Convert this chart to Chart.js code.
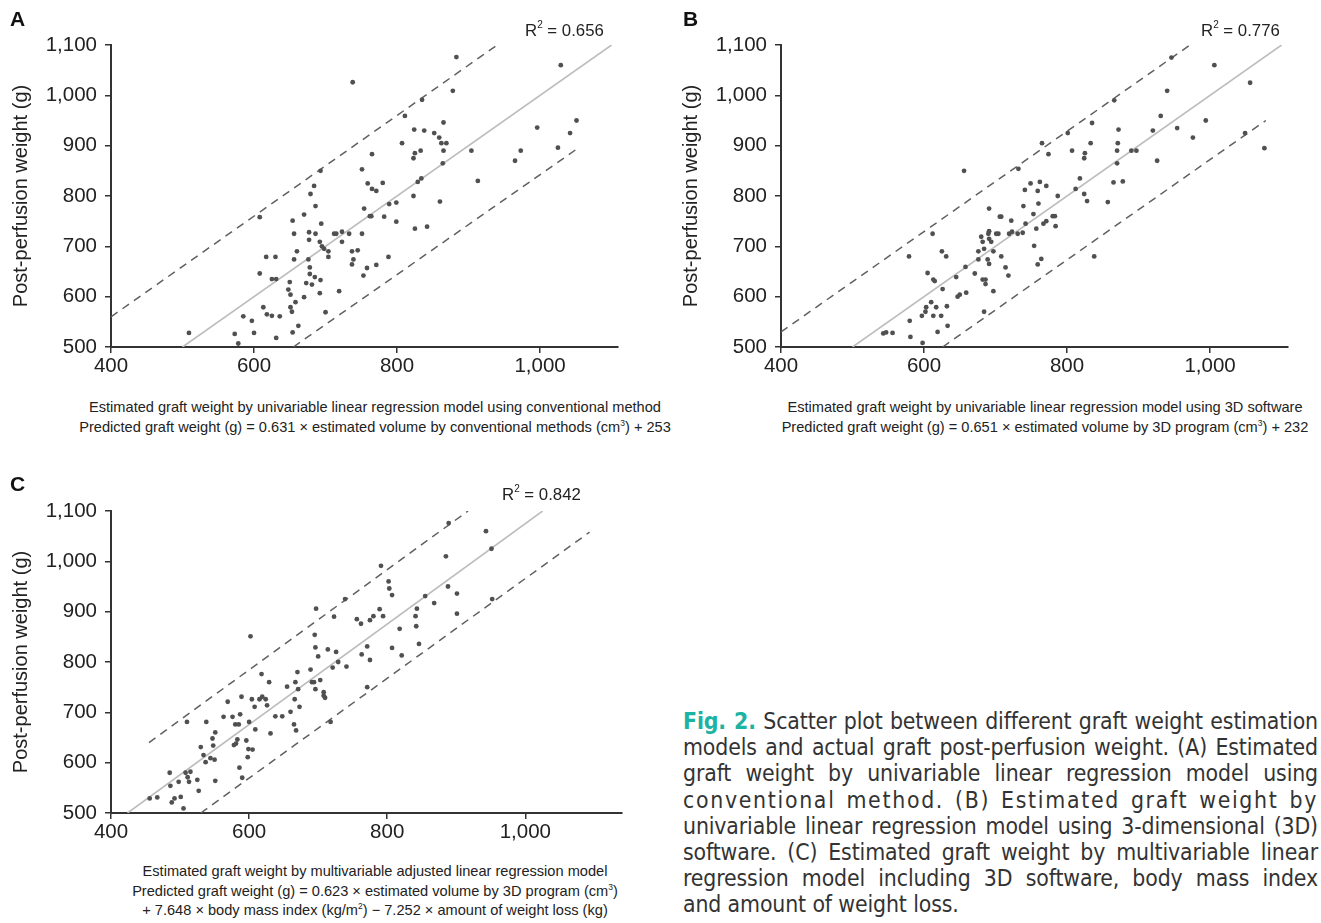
<!DOCTYPE html>
<html>
<head>
<meta charset="utf-8">
<script src="https://cdn.jsdelivr.net/npm/chart.js@4.4.1/dist/chart.umd.min.js"></script>
<style>
  html, body { margin: 0; padding: 0; background: #fff; }
  #root { position: relative; width: 1321px; height: 923px; overflow: hidden; font-family: "Liberation Sans", Arial, sans-serif; color: #222; }
  canvas { position: absolute; }
  .lbl { position: absolute; font-weight: bold; font-size: 21px; color: #111; }
  .r2 { position: absolute; font-size: 16.8px; color: #222; white-space: nowrap; }
  .r2 sup { font-size: 10px; position: relative; top: -1px; }
  .xt { position: absolute; text-align: center; font-size: 14.6px; line-height: 19.5px; color: #222; white-space: nowrap; }
  .xt sup { font-size: 8.5px; line-height: 0; }
  #cap { position: absolute; left: 683px; top: 708px; width: 635px; font-family: "DejaVu Sans Condensed", "Liberation Sans", sans-serif; font-size: 22.8px; letter-spacing: -0.12px; line-height: 26.2px; color: #333; }
  #cap div { text-align: justify; text-align-last: justify; white-space: nowrap; }
  #cap div.wide { letter-spacing: 1.7px; }
  #cap div.last { text-align-last: left; }
  #cap b { color: #1bb3a3; font-weight: bold; }
</style>
</head>
<body>
<div id="root">
  <canvas id="cA" width="640" height="380" style="left:0px;top:0px;width:640px;height:380px"></canvas>
  <canvas id="cB" width="640" height="380" style="left:670px;top:0px;width:640px;height:380px"></canvas>
  <canvas id="cC" width="640" height="380" style="left:0px;top:466px;width:640px;height:380px"></canvas>

  <div class="lbl" style="left:10px;top:7px">A</div>
  <div class="lbl" style="left:683px;top:7px">B</div>
  <div class="lbl" style="left:10px;top:472px">C</div>

  <div class="r2" style="left:525px;top:20px">R<sup>2</sup> = 0.656</div>
  <div class="r2" style="left:1201px;top:20px">R<sup>2</sup> = 0.776</div>
  <div class="r2" style="left:502px;top:484px">R<sup>2</sup> = 0.842</div>

  <div class="xt" style="left:75px;top:398px;width:600px">Estimated graft weight by univariable linear regression model using conventional method<br>Predicted graft weight (g) = 0.631 &times; estimated volume by conventional methods (cm<sup>3</sup>) + 253</div>
  <div class="xt" style="left:745px;top:398px;width:600px">Estimated graft weight by univariable linear regression model using 3D software<br>Predicted graft weight (g) = 0.651 &times; estimated volume by 3D program (cm<sup>3</sup>) + 232</div>
  <div class="xt" style="left:75px;top:862px;width:600px">Estimated graft weight by multivariable adjusted linear regression model<br>Predicted graft weight (g) = 0.623 &times; estimated volume by 3D program (cm<sup>3</sup>)<br>+ 7.648 &times; body mass index (kg/m<sup>2</sup>) &minus; 7.252 &times; amount of weight loss (kg)</div>

  <div id="cap">
    <div><b>Fig. 2.</b> Scatter plot between different graft weight estimation</div>
    <div>models and actual graft post-perfusion weight. (A) Estimated</div>
    <div>graft weight by univariable linear regression model using</div>
    <div class="wide">conventional method. (B) Estimated graft weight by</div>
    <div>univariable linear regression model using 3-dimensional (3D)</div>
    <div>software. (C) Estimated graft weight by multivariable linear</div>
    <div>regression model including 3D software, body mass index</div>
    <div class="last">and amount of weight loss.</div>
  </div>
</div>
<script>
// ---- Tick values ----
const xTickVals = [400, 600, 800, 1000];
const yTickVals = [500, 600, 700, 800, 900, 1000, 1100];

// ---- Panel A: conventional method ----
const aX = [509,573,578,585,597,600,608,608,613,617, 618,625,625,630,631,631,636,648,650,651, 651,653,654,654,656,656,658,660,662,670, 670,673,676,677,677,678,678,679,681,684, 685,686,686,692,692,693,693,694,695,698, 700,704,704,712,715,719,723,723,733,737, 737,738,739,745,751,751,753,754,758,759, 762,764,765,765,771,771,780,782,788,789, 799,799,807,811,823,823,824,825,825,829, 833,834,835,838,842,852,859,860,862,864, 865,865,869,878,883,904,913,965,973,996, 1025,1029,1042,1051];
const aY = [528,526,507,561,552,528,758,646,579,679, 565,635,562,679,635,518,561,614,629,604, 579,570,529,751,725,674,589,690,542,599, 763,627,674,728,713,658,645,804,624,820, 639,780,725,709,607,633,850,745,700,695, 569,690,679,725,725,611,729,709,725,690, 664,1026,674,692,725,853,642,775,657,825, 760,760,814,883,810,663,826,759,679,784, 787,749,905,959,875,800,932,735,885,828, 890,835,991,930,739,925,916,789,905,865, 946,890,905,1009,1076,890,830,870,890,936, 896,1060,925,950];
const aFitX = [500, 1100], aFitY = [500, 1100];
const aUpX = [400, 940],  aUpY = [560, 1100];
const aLoX = [655, 1050], aLoY = [500, 892];

// ---- Panel B: 3D software ----
const bX = [543,547,556,579,580,581,597,598,602,603, 605,610,612,613,613,615,617,619,624,625, 626,631,632,633,645,647,650,656,658,659, 671,676,676,680,682,682,684,684,686,686, 689,690,691,691,691,691,694,697,697,701, 704,706,708,708,714,718,719,722,723,731, 732,738,739,741,742,749,753,754,757,759, 759,760,762,764,765,767,771,771,774,780, 783,784,787,801,807,812,818,824,824,825, 828,833,835,838,857,865,866,870,870,871, 872,878,890,897,920,926,931,940,946,954, 976,994,1006,1049,1056,1076];
const bY = [527,529,528,680,552,520,562,508,570,579, 647,589,725,562,634,631,579,530,562,690, 615,680,581,542,639,600,604,850,659,608, 646,690,674,719,709,634,570,695,634,625, 674,725,730,715,665,775,709,690,611,725, 725,759,759,680,658,642,725,751,729,725, 854,727,780,812,745,825,764,701,735,664, 810,785,828,675,905,745,750,820,883,760, 760,740,800,925,890,814,835,804,875,885, 790,905,945,680,788,827,990,890,865,905, 932,829,890,890,930,870,959,1009,1075,935, 916,950,1060,925,1025,895];
const bFitX = [500, 1100], bFitY = [500, 1100];
const bUpX = [400, 972],  bUpY = [530, 1100];
const bLoX = [626, 1078], bLoY = [500, 950];

// ---- Panel C: multivariable model ----
const cX = [456,467,485,486,488,492,498,501,505,508, 510,511,513,515,525,527,530,534,537,538, 544,547,548,550,551,551,563,569,576,578, 580,581,583,585,586,587,589,590,596,598, 599,600,602,604,605,608,609,615,618,619, 624,626,629,631,638,648,655,660,665,666, 667,668,670,671,673,689,691,694,695,696, 696,697,700,703,708,708,710,714,718,721, 723,726,729,739,741,756,762,763,771,771, 775,775,780,789,791,794,802,803,807,807, 818,821,841,842,843,846,855,868,885,888, 889,901,901,943,951,952];
const cY = [529,531,580,554,521,529,562,532,509,580, 681,571,562,582,566,544,631,615,601,681, 609,648,634,606,564,660,691,721,691,635, 676,638,646,676,590,696,731,570,644,611, 627,681,851,726,626,711,666,726,776,731, 726,714,760,658,692,692,751,701,676,726, 760,664,780,746,711,785,760,760,854,829, 746,906,811,764,740,733,729,825,681,789, 890,820,800,925,791,885,876,815,831,750, 804,883,891,905,991,891,960,946,933,828, 866,813,891,871,906,836,931,917,1010,950, 1076,896,936,1060,1025,925];
const cFitX = [424, 1025], cFitY = [500, 1100];
const cUpX = [455, 917],  cUpY = [640, 1100];
const cLoX = [530, 1093], cLoY = [500, 1058];

Chart.defaults.font.family = '"Liberation Sans", Arial, sans-serif';
Chart.defaults.color = '#222';

const zip = (xs, ys) => xs.map((x, i) => ({ x: x, y: ys[i] }));
const fmt = v => Number(v).toLocaleString('en-US');

function makeChart(id, xs, ys, fit, up, lo, xMax, padRight) {
  const lineDs = (pts, color, dash, w) => ({
    type: 'line', data: pts, borderColor: color, borderWidth: w, borderDash: dash,
    pointRadius: 0, fill: false, tension: 0, order: 2
  });
  return new Chart(document.getElementById(id), {
    type: 'scatter',
    data: {
      datasets: [
        { data: zip(xs, ys), pointRadius: 2.4, pointBackgroundColor: '#505050', pointBorderWidth: 0, order: 1 },
        lineDs(zip(fit[0], fit[1]), '#bdbdbd', [], 1.6),
        lineDs(zip(up[0], up[1]), '#606060', [8, 6], 1.5),
        lineDs(zip(lo[0], lo[1]), '#606060', [8, 6], 1.5)
      ]
    },
    options: {
      responsive: false, animation: false, devicePixelRatio: 1,
      layout: { padding: { top: 45, right: padRight, bottom: 0, left: 0 } },
      plugins: { legend: { display: false }, tooltip: { enabled: false }, title: { display: false } },
      scales: {
        x: {
          type: 'linear', min: 400, max: xMax,
          afterBuildTicks: s => { s.ticks = xTickVals.map(v => ({ value: v })); },
          afterFit: s => { s.height = 33; },
          ticks: { font: { size: 20.5 }, color: '#222', padding: 1, callback: v => fmt(v), maxRotation: 0 },
          grid: { drawOnChartArea: false, drawTicks: true, tickLength: 6, color: '#333', lineWidth: 1.5 },
          border: { display: true, color: '#333', width: 2 }
        },
        y: {
          type: 'linear', min: 500, max: 1100,
          afterBuildTicks: s => { s.ticks = yTickVals.map(v => ({ value: v })); },
          afterFit: s => { s.width = 111; },
          ticks: { font: { size: 20.5 }, color: '#222', padding: 8, callback: v => fmt(v) },
          grid: { drawOnChartArea: false, drawTicks: true, tickLength: 6, color: '#333', lineWidth: 1.5 },
          border: { display: true, color: '#333', width: 2 },
          title: { display: true, text: 'Post-perfusion weight (g)', font: { size: 20 }, color: '#222', padding: { top: 9, bottom: 0 } }
        }
      }
    }
  });
}

makeChart('cA', aX, aY, [aFitX, aFitY], [aUpX, aUpY], [aLoX, aLoY], 1109, 22);
makeChart('cB', bX, bY, [bFitX, bFitY], [bUpX, bUpY], [bLoX, bLoY], 1109, 22);
makeChart('cC', cX, cY, [cFitX, cFitY], [cUpX, cUpY], [cLoX, cLoY], 1140, 18);
</script>
</body>
</html>
